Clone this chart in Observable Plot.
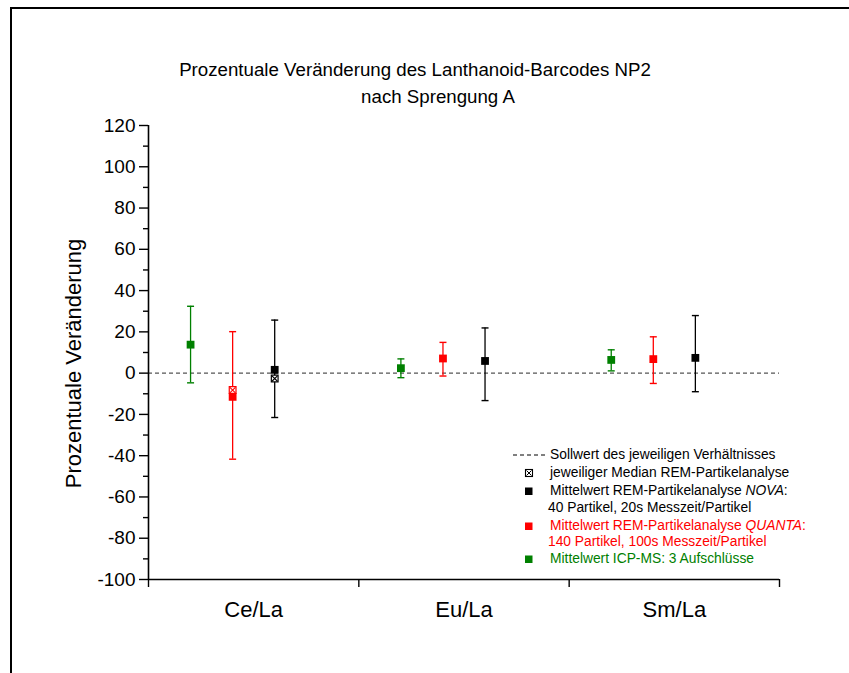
<!DOCTYPE html>
<html>
<head>
<meta charset="utf-8">
<script src="https://cdn.jsdelivr.net/npm/d3@7"></script>
<script src="https://cdn.jsdelivr.net/npm/@observablehq/plot@0.6"></script>
<style>
  body { margin: 0; background: #fff; font-family: "Liberation Sans", Arial, sans-serif; }
  #wrap { position: relative; width: 849px; height: 673px; overflow: hidden; background: #fff; }
  #border { position: absolute; left: 10px; top: 7px; right: -10px; bottom: -10px;
            border-top: 2px solid #000; border-left: 2px solid #000; pointer-events: none; }
  .title { position: absolute; width: 700px; text-align: center;
           font-size: 18.7px; line-height: 27px; color: #000; white-space: nowrap; }
  #chart { position: absolute; left: 0; top: 0; }
  .lg { position: absolute; font-size: 13.8px; line-height: 16px; white-space: nowrap; }
  .sym { position: absolute; }
</style>
</head>
<body>
<div id="wrap">
  <div id="chart"></div>
  <div class="title" style="left:65px; top:56px;">Prozentuale Veränderung des Lanthanoid-Barcodes NP2</div>
  <div class="title" style="left:88px; top:83px;">nach Sprengung A</div>
  <div id="legend"></div>
  <div id="border"></div>
</div>
<script>
// ---- data ----
const categories = ["Ce/La", "Eu/La", "Sm/La"];
const yTicks = [-100, -80, -60, -40, -20, 0, 20, 40, 60, 80, 100, 120];
const yMinorTicks = [-90, -70, -50, -30, -10, 10, 30, 50, 70, 90, 110];
const targetValue = [0];

// ICP-MS (green)
const icpMean = [13.8, 2.4, 6.4];
const icpLow  = [-4.7, -2.2, 1.1];
const icpHigh = [32.4, 6.9, 11.3];
// REM QUANTA (red)
const quantaMean = [-11.5, 7.1, 6.8];
const quantaLow  = [-41.7, -1.4, -5.0];
const quantaHigh = [20.1, 14.9, 17.6];
// REM NOVA (black)
const novaMean = [1.6, 5.9, 7.4];
const novaLow  = [-21.5, -13.3, -9.0];
const novaHigh = [25.7, 21.9, 27.9];
// medians (visible only for Ce/La)
const quantaMedian = [-8.2];
const novaMedian = [-2.6];

const seriesNames = ["ICP-MS", "QUANTA", "NOVA"];
const seriesColors = ["#008000", "#ff0000", "#000000"];
const seriesOffsets = [0.2, 0.4, 0.6];

// ---- build table ----
const rows = [];
const means = [icpMean, quantaMean, novaMean];
const lows = [icpLow, quantaLow, novaLow];
const highs = [icpHigh, quantaHigh, novaHigh];
seriesNames.forEach((s, si) => {
  categories.forEach((c, ci) => {
    rows.push({series: s, color: seriesColors[si], pos: ci + seriesOffsets[si],
               mean: means[si][ci], low: lows[si][ci], high: highs[si][ci]});
  });
});
const medians = [];
quantaMedian.forEach((v, ci) => medians.push({pos: ci + seriesOffsets[1], value: v, color: "#ff0000"}));
novaMedian.forEach((v, ci) => medians.push({pos: ci + seriesOffsets[2], value: v, color: "#000000"}));

const capSymbol = { draw(ctx) { ctx.moveTo(-3.5, 0); ctx.lineTo(3.5, 0); } };
const FONT = "'Liberation Sans', Arial, sans-serif";

const chart = Plot.plot({
  width: 849,
  height: 673,
  marginLeft: 148,
  marginRight: 70,
  marginTop: 125,
  marginBottom: 94,
  style: { fontFamily: FONT, background: "transparent", color: "#000" },
  x: { domain: [0, 3], axis: null },
  y: { domain: [-100, 120], axis: null },
  marks: [
    Plot.ruleY(targetValue, { stroke: "#555", strokeWidth: 1.3, strokeDasharray: "4,3" }),
    // error bars
    Plot.ruleX(rows, { x: "pos", y1: "low", y2: "high", stroke: "color", strokeWidth: 1.3 }),
    Plot.dot(rows, { x: "pos", y: "low", symbol: capSymbol, stroke: "color", strokeWidth: 1.4, fill: "none", r: 3 }),
    Plot.dot(rows, { x: "pos", y: "high", symbol: capSymbol, stroke: "color", strokeWidth: 1.4, fill: "none", r: 3 }),
    // medians
    Plot.dot(medians, { x: "pos", y: "value", symbol: "square", r: 3.8, fill: "white", stroke: "color", strokeWidth: 1.2 }),
    Plot.dot(medians, { x: "pos", y: "value", symbol: "times", r: 2.6, stroke: "color", strokeWidth: 1.1 }),
    // means
    Plot.dot(rows, { x: "pos", y: "mean", symbol: "square", r: 4.4, fill: "color", stroke: "none" }),
    // axes
    Plot.ruleX([0], { stroke: "#000", strokeWidth: 1.6 }),
    Plot.ruleY([-100], { stroke: "#000", strokeWidth: 1.6 }),
    Plot.axisY(yTicks, { tickSize: 9, tickPadding: 4, fontSize: 19, tickFormat: d => String(d), strokeWidth: 1.4, label: null }),
    Plot.axisY(yMinorTicks, { tickSize: 5, tickFormat: () => "", strokeWidth: 1.4, label: null }),
    Plot.axisX([0, 1, 2, 3], { tickSize: 8, tickFormat: () => "", strokeWidth: 1.4, label: null }),
    Plot.text(categories, { x: (d, i) => i + 0.5, text: d => d, frameAnchor: "bottom", dy: 37, fontSize: 22 }),
    Plot.text(["Prozentuale Veränderung"], { frameAnchor: "left", textAnchor: "middle", dx: -75, dy: 11, rotate: -90, fontSize: 22 })
  ]
});
document.getElementById("chart").appendChild(chart);

// ---- legend ----
const legendItems = [
  { y: 455, x: 550, text: "Sollwert des jeweiligen Verhältnisses", color: "#000", sym: "dash" },
  { y: 473, x: 550, text: "jeweiliger Median REM-Partikelanalyse", color: "#000", sym: "median" },
  { y: 491, x: 550, text: "Mittelwert REM-Partikelanalyse <i>NOVA</i>:", color: "#000", sym: "square" },
  { y: 508, x: 548, text: "40 Partikel, 20s Messzeit/Partikel", color: "#000", sym: null },
  { y: 526, x: 550, text: "Mittelwert REM-Partikelanalyse <i>QUANTA</i>:", color: "#ff0000", sym: "square" },
  { y: 542, x: 548, text: "140 Partikel, 100s Messzeit/Partikel", color: "#ff0000", sym: null },
  { y: 559, x: 550, text: "Mittelwert ICP-MS: 3 Aufschlüsse", color: "#008000", sym: "square" }
];
const lg = document.getElementById("legend");
legendItems.forEach(it => {
  const t = document.createElement("div");
  t.className = "lg";
  t.style.left = it.x + "px";
  t.style.top = (it.y - 8) + "px";
  t.style.color = it.color;
  t.innerHTML = it.text;
  lg.appendChild(t);
  if (it.sym) {
    const s = document.createElementNS("http://www.w3.org/2000/svg", "svg");
    s.setAttribute("class", "sym");
    s.setAttribute("width", 40); s.setAttribute("height", 12);
    s.style.left = "510px"; s.style.top = (it.y - 6) + "px";
    if (it.sym === "dash") {
      s.innerHTML = '<line x1="3" y1="6" x2="36" y2="6" stroke="#000" stroke-width="1" stroke-dasharray="4,3"/>';
    } else if (it.sym === "median") {
      s.innerHTML = '<rect x="15.5" y="2.5" width="7" height="7" fill="white" stroke="#000" stroke-width="1.1"/>' +
                    '<path d="M16.5 3.5 L21.5 8.5 M21.5 3.5 L16.5 8.5" stroke="#000" stroke-width="1"/>';
    } else {
      s.innerHTML = '<rect x="15" y="2.5" width="7.5" height="7.5" fill="' + it.color + '"/>';
    }
    lg.appendChild(s);
  }
});
</script>
</body>
</html>
